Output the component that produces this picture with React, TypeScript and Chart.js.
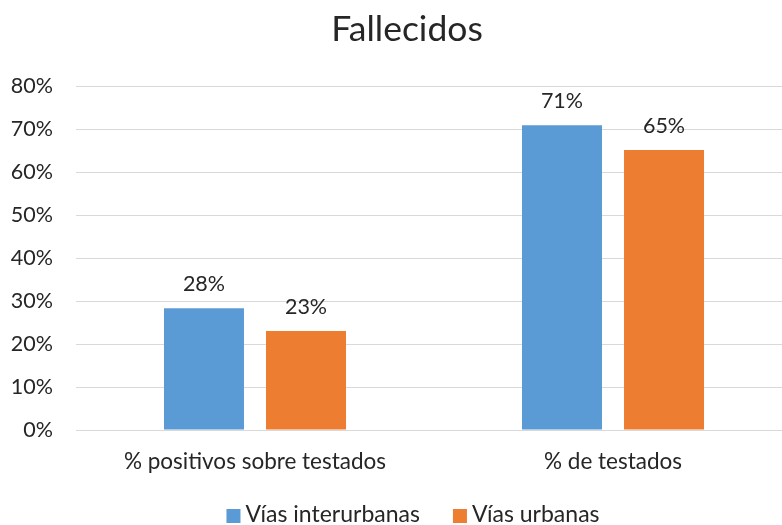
import React, { useEffect, useRef } from "react";
import { Chart, registerables } from "chart.js";

Chart.register(...registerables);

const title = "Fallecidos";
const categories = ["% positivos sobre testados", "% de testados"];
const seriesNames = ["Vías interurbanas", "Vías urbanas"];
const interurbanas = [28.3, 70.9];
const urbanas = [23.0, 65.1];
const yTicks = [0, 10, 20, 30, 40, 50, 60, 70, 80];
const colors = ["#5B9BD5", "#ED7D31"];

const FONT = "Lato, 'Open Sans', sans-serif";
const TEXT = "#262626";

const dataLabels = {
  id: "dataLabels",
  afterDatasetsDraw(chart: any) {
    const ctx = chart.ctx;
    ctx.save();
    ctx.font = `21.5px ${FONT}`;
    ctx.fillStyle = TEXT;
    ctx.textAlign = "center";
    ctx.textBaseline = "bottom";
    chart.data.datasets.forEach((ds: any, i: number) => {
      const meta = chart.getDatasetMeta(i);
      meta.data.forEach((el: any, j: number) => {
        ctx.fillText(Math.round(ds.data[j]) + "%", el.x, el.y - 13);
      });
    });
    ctx.restore();
  },
};

// Title and legend placed like the original (centred on the whole chart, not the plot)
const titleAndLegend = {
  id: "titleAndLegend",
  afterDraw(chart: any) {
    const ctx = chart.ctx;
    ctx.save();
    ctx.fillStyle = TEXT;
    ctx.textBaseline = "alphabetic";
    ctx.textAlign = "center";
    ctx.font = `35.5px ${FONT}`;
    ctx.fillText(title, 407, 41);

    ctx.font = `23px ${FONT}`;
    ctx.textAlign = "left";
    const box = 14;
    const boxGap = 5;
    const itemGap = 33;
    const widths = chart.data.datasets.map((d: any) => ctx.measureText(d.label).width);
    const total = widths.reduce((a: number, w: number) => a + box + boxGap + w, 0) + itemGap * (widths.length - 1);
    let x = 413 - total / 2;
    const baseline = 522;
    chart.data.datasets.forEach((d: any, i: number) => {
      ctx.fillStyle = d.backgroundColor;
      ctx.fillRect(x, baseline - 13, box, 14);
      x += box + boxGap;
      ctx.fillStyle = TEXT;
      ctx.fillText(d.label, x, baseline);
      x += widths[i] + itemGap;
    });
    ctx.restore();
  },
};

export default function App() {
  const ref = useRef<HTMLCanvasElement>(null);
  useEffect(() => {
    const chart = new Chart(ref.current!, {
      type: "bar",
      data: {
        labels: categories,
        datasets: [
          { label: seriesNames[0], data: interurbanas, backgroundColor: colors[0] },
          { label: seriesNames[1], data: urbanas, backgroundColor: colors[1] },
        ],
      },
      options: {
        responsive: false,
        animation: false,
        datasets: { bar: { categoryPercentage: 0.57, barPercentage: 0.784 } },
        layout: { padding: { left: 8, right: 23, top: 86, bottom: 47 } },
        scales: {
          x: {
            grid: { display: false },
            border: { color: "#D9D9D9", width: 1 },
            ticks: { color: TEXT, font: { family: FONT, size: 22.5 }, padding: 10 },
            afterFit: (axis: any) => {
              axis.height = 48;
            },
          },
          y: {
            min: 0,
            max: 80,
            afterBuildTicks: (axis: any) => {
              axis.ticks = yTicks.map((v) => ({ value: v }));
            },
            afterFit: (axis: any) => {
              axis.width = 68;
            },
            grid: { color: "#D9D9D9", lineWidth: 1, drawTicks: false },
            border: { display: false },
            ticks: {
              color: TEXT,
              font: { family: FONT, size: 21.5 },
              padding: 23,
              callback: (v: any) => v + "%",
            },
          },
        },
        plugins: {
          title: { display: false },
          legend: { display: false },
          tooltip: { enabled: false },
        },
      },
      plugins: [dataLabels, titleAndLegend],
    });
    return () => chart.destroy();
  }, []);
  return (
    <div style={{ position: "fixed", left: 0, top: 0, width: 782, height: 525, overflow: "hidden", background: "#fff" }}>
      <canvas ref={ref} width={815} height={525} style={{ width: 815, height: 525, display: "block" }} />
    </div>
  );
}
